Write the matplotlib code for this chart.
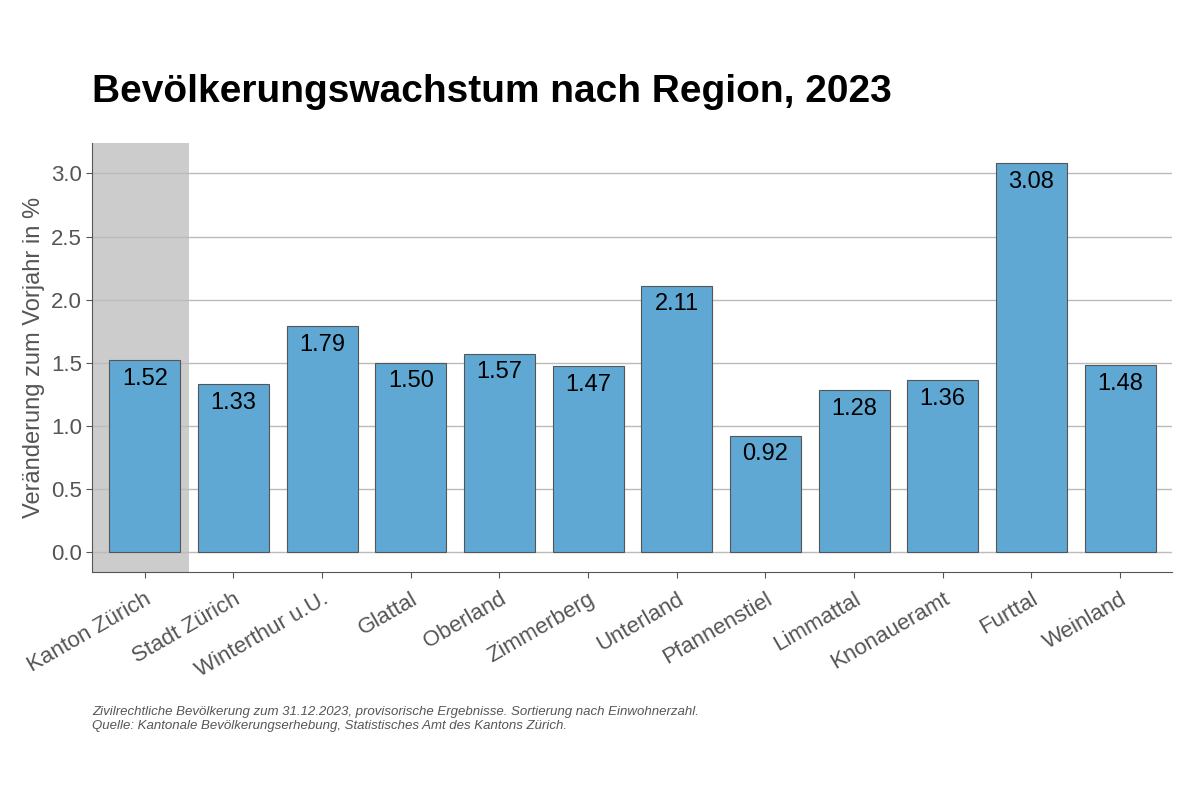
import matplotlib
matplotlib.use('Agg')
import matplotlib.pyplot as plt

regions = ['Kanton Zürich', 'Stadt Zürich', 'Winterthur u.U.', 'Glattal', 'Oberland',
           'Zimmerberg', 'Unterland', 'Pfannenstiel', 'Limmattal', 'Knonaueramt',
           'Furttal', 'Weinland']
growth = [1.52, 1.33, 1.79, 1.50, 1.57, 1.47, 2.11, 0.92, 1.28, 1.36, 3.08, 1.48]

plt.rcParams['font.family'] = ['Liberation Sans', 'DejaVu Sans']

fig = plt.figure(figsize=(12, 8), dpi=100)
ax = fig.add_axes([0.077, 0.285, 0.900, 0.536])

x = list(range(len(regions)))
ax.axvspan(-0.59, 0.5, color='#cccccc', zorder=0, lw=0)
ax.bar(x, growth, width=0.8, color='#5fa8d3', edgecolor='#555555', linewidth=0.8, zorder=2)
for xi, v in zip(x, growth):
    ax.text(xi, v - 0.06, f'{v:.2f}', ha='center', va='top', fontsize=17, color='black', zorder=3)

ax.set_xlim(-0.59, 11.59)
ax.set_ylim(-0.16, 3.24)
ax.set_yticks([0, 0.5, 1.0, 1.5, 2.0, 2.5, 3.0])
ax.set_yticklabels([f'{t:.1f}' for t in [0, 0.5, 1.0, 1.5, 2.0, 2.5, 3.0]])
ax.yaxis.grid(True, color='#bbbbbb', lw=1, zorder=1)
ax.set_axisbelow(True)
ax.set_xticks(x)
ax.set_xticklabels(regions, rotation=30, ha='right', rotation_mode='anchor')
ax.tick_params(axis='both', labelsize=16, colors='#555555', labelcolor='#555555', length=4)
ax.tick_params(axis='x', pad=8)
for s in ['top', 'right']:
    ax.spines[s].set_visible(False)
for s in ['left', 'bottom']:
    ax.spines[s].set_color('#555555')
ax.set_ylabel('Veränderung zum Vorjahr in %', fontsize=17, color='#555555')

fig.text(0.077, 0.862, 'Bevölkerungswachstum nach Region, 2023', fontsize=28,
         fontweight='bold', ha='left', va='bottom')
fig.text(0.077, 0.085, 'Zivilrechtliche Bevölkerung zum 31.12.2023, provisorische Ergebnisse. '
         'Sortierung nach Einwohnerzahl.\nQuelle: Kantonale Bevölkerungserhebung, '
         'Statistisches Amt des Kantons Zürich.', fontsize=9.5, style='italic',
         color='#555555', ha='left', va='bottom', linespacing=1.2)

fig.savefig('out.png', dpi=100, facecolor='white')
